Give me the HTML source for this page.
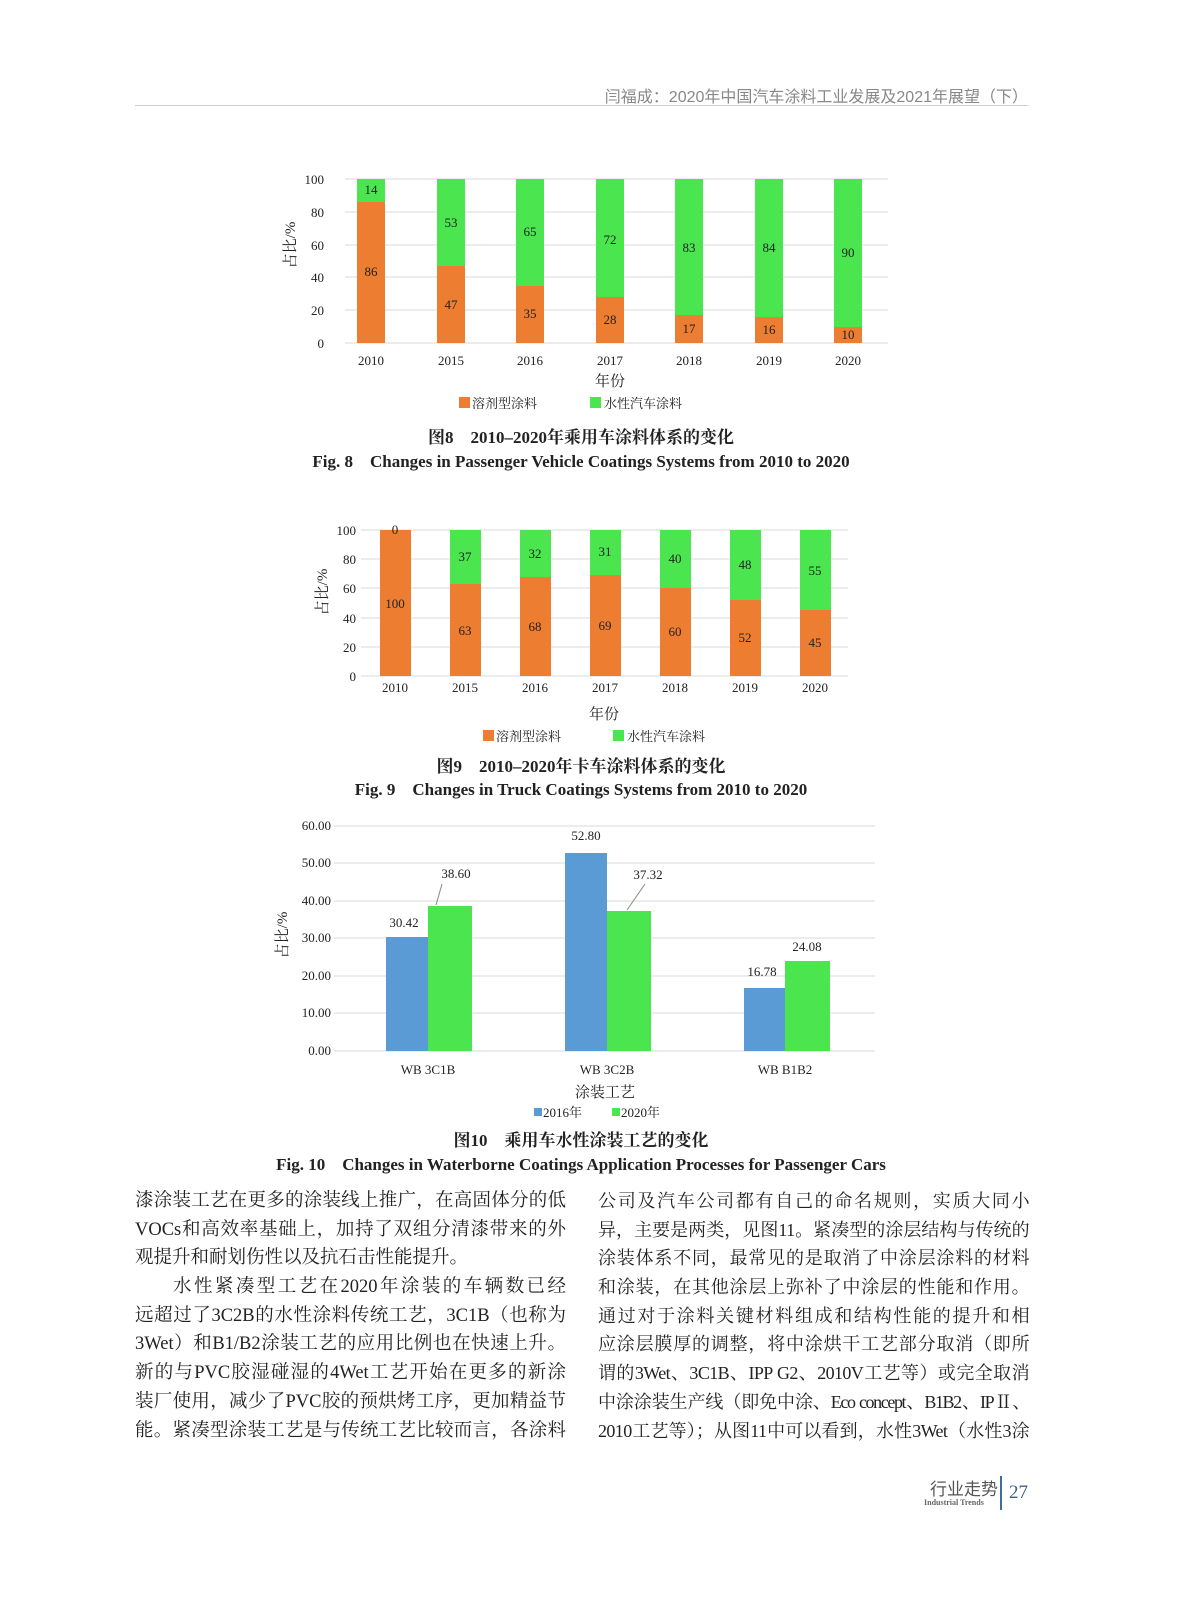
<!DOCTYPE html>
<html><head><meta charset="utf-8"><style>
html,body{margin:0;background:#fff;width:1187px;height:1600px;overflow:hidden;}
#p{position:relative;width:1187px;height:1600px;overflow:hidden;font-family:"Liberation Serif","Noto Serif CJK SC",serif;color:#222;}
.t{position:absolute;white-space:nowrap;}
.col{position:absolute;width:431px;font-size:18.5px;}
.col div{height:28.7px;line-height:28.7px;text-align:justify;text-align-last:justify;white-space:nowrap;}
.col div.e{text-align-last:left;}
.rc{font-size:18px;letter-spacing:-0.6px;}
</style></head><body><div id="p">
<div class="t" style="right:159px;top:83px;font-size:16px;color:#888;font-family:'Liberation Sans','Noto Sans CJK SC',sans-serif;">闫福成：2020年中国汽车涂料工业发展及2021年展望（下）</div>
<div style="position:absolute;left:135px;top:105px;width:893px;height:1px;background:#ccc"></div>

<svg width="1187" height="1600" style="position:absolute;left:0;top:0" font-family="Liberation Serif, Noto Serif CJK SC, serif" fill="#222">
<!-- Chart 1 -->
<g stroke="#d9d9d9" stroke-width="1">
<line x1="345" x2="888" y1="179" y2="179"/><line x1="345" x2="888" y1="212" y2="212"/><line x1="345" x2="888" y1="245" y2="245"/><line x1="345" x2="888" y1="277" y2="277"/><line x1="345" x2="888" y1="310" y2="310"/><line x1="345" x2="888" y1="343" y2="343"/>
</g>
<g font-size="13" text-anchor="end"><text x="324" y="184">100</text><text x="324" y="217">80</text><text x="324" y="250">60</text><text x="324" y="282">40</text><text x="324" y="315">20</text><text x="324" y="348">0</text></g>
<text font-size="15" transform="translate(295,245) rotate(-90)" text-anchor="middle">占比/%</text>
<g font-size="13" text-anchor="middle">
<rect x="357" y="179" width="28" height="23" fill="#4BE550"/><rect x="357" y="202" width="28" height="141" fill="#ED7D31"/><text x="371" y="194">14</text><text x="371" y="276">86</text><text x="371" y="365">2010</text>
<rect x="437" y="179" width="28" height="87" fill="#4BE550"/><rect x="437" y="266" width="28" height="77" fill="#ED7D31"/><text x="451" y="227">53</text><text x="451" y="309">47</text><text x="451" y="365">2015</text>
<rect x="516" y="179" width="28" height="107" fill="#4BE550"/><rect x="516" y="286" width="28" height="57" fill="#ED7D31"/><text x="530" y="236">65</text><text x="530" y="318">35</text><text x="530" y="365">2016</text>
<rect x="596" y="179" width="28" height="118" fill="#4BE550"/><rect x="596" y="297" width="28" height="46" fill="#ED7D31"/><text x="610" y="244">72</text><text x="610" y="324">28</text><text x="610" y="365">2017</text>
<rect x="675" y="179" width="28" height="136" fill="#4BE550"/><rect x="675" y="315" width="28" height="28" fill="#ED7D31"/><text x="689" y="252">83</text><text x="689" y="333">17</text><text x="689" y="365">2018</text>
<rect x="755" y="179" width="28" height="138" fill="#4BE550"/><rect x="755" y="317" width="28" height="26" fill="#ED7D31"/><text x="769" y="252">84</text><text x="769" y="334">16</text><text x="769" y="365">2019</text>
<rect x="834" y="179" width="28" height="148" fill="#4BE550"/><rect x="834" y="327" width="28" height="16" fill="#ED7D31"/><text x="848" y="257">90</text><text x="848" y="339">10</text><text x="848" y="365">2020</text>
<text x="610" y="386" font-size="15">年份</text>
</g>
<g font-size="13"><rect x="459" y="397" width="11" height="11" fill="#ED7D31"/><text x="472" y="408">溶剂型涂料</text><rect x="590" y="397" width="11" height="11" fill="#4BE550"/><text x="604" y="408">水性汽车涂料</text></g>
<g text-anchor="middle" font-weight="bold"><text x="581" y="443" font-size="17">图8　2010–2020年乘用车涂料体系的变化</text><text x="581" y="467" font-size="17">Fig. 8　Changes in Passenger Vehicle Coatings Systems from 2010 to 2020</text></g>

<!-- Chart 2 -->
<g stroke="#d9d9d9"><line x1="361" x2="848" y1="530" y2="530"/><line x1="361" x2="848" y1="559" y2="559"/><line x1="361" x2="848" y1="588" y2="588"/><line x1="361" x2="848" y1="618" y2="618"/><line x1="361" x2="848" y1="647" y2="647"/><line x1="361" x2="848" y1="676" y2="676"/></g>
<g font-size="13" text-anchor="end"><text x="356" y="535">100</text><text x="356" y="564">80</text><text x="356" y="593">60</text><text x="356" y="623">40</text><text x="356" y="652">20</text><text x="356" y="681">0</text></g>
<text font-size="15" transform="translate(327,592) rotate(-90)" text-anchor="middle">占比/%</text>
<g font-size="13" text-anchor="middle">
<rect x="380" y="530" width="31" height="146" fill="#ED7D31"/><text x="395" y="534">0</text><text x="395" y="608">100</text><text x="395" y="692">2010</text>
<rect x="450" y="530" width="31" height="54" fill="#4BE550"/><rect x="450" y="584" width="31" height="92" fill="#ED7D31"/><text x="465" y="561">37</text><text x="465" y="635">63</text><text x="465" y="692">2015</text>
<rect x="520" y="530" width="31" height="47" fill="#4BE550"/><rect x="520" y="577" width="31" height="99" fill="#ED7D31"/><text x="535" y="558">32</text><text x="535" y="631">68</text><text x="535" y="692">2016</text>
<rect x="590" y="530" width="31" height="45" fill="#4BE550"/><rect x="590" y="575" width="31" height="101" fill="#ED7D31"/><text x="605" y="556">31</text><text x="605" y="630">69</text><text x="605" y="692">2017</text>
<rect x="660" y="530" width="31" height="58" fill="#4BE550"/><rect x="660" y="588" width="31" height="88" fill="#ED7D31"/><text x="675" y="563">40</text><text x="675" y="636">60</text><text x="675" y="692">2018</text>
<rect x="730" y="530" width="31" height="70" fill="#4BE550"/><rect x="730" y="600" width="31" height="76" fill="#ED7D31"/><text x="745" y="569">48</text><text x="745" y="642">52</text><text x="745" y="692">2019</text>
<rect x="800" y="530" width="31" height="80" fill="#4BE550"/><rect x="800" y="610" width="31" height="66" fill="#ED7D31"/><text x="815" y="575">55</text><text x="815" y="647">45</text><text x="815" y="692">2020</text>
<text x="604" y="719" font-size="15">年份</text>
</g>
<g font-size="13"><rect x="483" y="730" width="11" height="11" fill="#ED7D31"/><text x="496" y="741">溶剂型涂料</text><rect x="613" y="730" width="11" height="11" fill="#4BE550"/><text x="627" y="741">水性汽车涂料</text></g>
<g text-anchor="middle" font-weight="bold"><text x="581" y="772" font-size="17">图9　2010–2020年卡车涂料体系的变化</text><text x="581" y="795" font-size="17">Fig. 9　Changes in Truck Coatings Systems from 2010 to 2020</text></g>

<!-- Chart 3 -->
<g stroke="#d9d9d9"><line x1="334" x2="875" y1="826" y2="826"/><line x1="334" x2="875" y1="863" y2="863"/><line x1="334" x2="875" y1="901" y2="901"/><line x1="334" x2="875" y1="938" y2="938"/><line x1="334" x2="875" y1="976" y2="976"/><line x1="334" x2="875" y1="1013" y2="1013"/><line x1="334" x2="875" y1="1051" y2="1051"/></g>
<g font-size="13" text-anchor="end"><text x="331" y="830">60.00</text><text x="331" y="867">50.00</text><text x="331" y="905">40.00</text><text x="331" y="942">30.00</text><text x="331" y="980">20.00</text><text x="331" y="1017">10.00</text><text x="331" y="1055">0.00</text></g>
<text font-size="15" transform="translate(287,935) rotate(-90)" text-anchor="middle">占比/%</text>
<rect x="386" y="937" width="42" height="114" fill="#5B9BD5"/><rect x="428" y="906" width="44" height="145" fill="#4BE550"/>
<rect x="565" y="853" width="42" height="198" fill="#5B9BD5"/><rect x="607" y="911" width="44" height="140" fill="#4BE550"/>
<rect x="744" y="988" width="41" height="63" fill="#5B9BD5"/><rect x="785" y="961" width="45" height="90" fill="#4BE550"/>
<g stroke="#888"><line x1="436" y1="905" x2="442" y2="884"/><line x1="627" y1="910" x2="645" y2="884"/></g>
<g font-size="13" text-anchor="middle">
<text x="404" y="927">30.42</text><text x="456" y="878">38.60</text><text x="586" y="840">52.80</text><text x="648" y="879">37.32</text><text x="762" y="976">16.78</text><text x="807" y="951">24.08</text>
<text x="428" y="1074">WB 3C1B</text><text x="607" y="1074">WB 3C2B</text><text x="785" y="1074">WB B1B2</text>
<text x="605" y="1097" font-size="15">涂装工艺</text>
</g>
<g font-size="13"><rect x="534" y="1108" width="8" height="8" fill="#5B9BD5"/><text x="543" y="1117">2016年</text><rect x="612" y="1108" width="8" height="8" fill="#4BE550"/><text x="621" y="1117">2020年</text></g>
<g text-anchor="middle" font-weight="bold"><text x="581" y="1146" font-size="17">图10　乘用车水性涂装工艺的变化</text><text x="581" y="1170" font-size="17">Fig. 10　Changes in Waterborne Coatings Application Processes for Passenger Cars</text></g>
</svg>

<div class="col" style="left:135px;top:1187px;">
<div>漆涂装工艺在更多的涂装线上推广，在高固体分的低</div>
<div>VOCs和高效率基础上，加持了双组分清漆带来的外</div>
<div class="e">观提升和耐划伤性以及抗石击性能提升。</div>
<div style="padding-left:38px">水性紧凑型工艺在2020年涂装的车辆数已经</div>
<div>远超过了3C2B的水性涂料传统工艺，3C1B（也称为</div>
<div>3Wet）和B1/B2涂装工艺的应用比例也在快速上升。</div>
<div>新的与PVC胶湿碰湿的4Wet工艺开始在更多的新涂</div>
<div>装厂使用，减少了PVC胶的预烘烤工序，更加精益节</div>
<div>能。紧凑型涂装工艺是与传统工艺比较而言，各涂料</div>
</div>
<div class="col rc" style="left:598px;top:1187px;">
<div>公司及汽车公司都有自己的命名规则，实质大同小</div>
<div>异，主要是两类，见图11。紧凑型的涂层结构与传统的</div>
<div>涂装体系不同，最常见的是取消了中涂层涂料的材料</div>
<div>和涂装，在其他涂层上弥补了中涂层的性能和作用。</div>
<div>通过对于涂料关键材料组成和结构性能的提升和相</div>
<div>应涂层膜厚的调整，将中涂烘干工艺部分取消（即所</div>
<div>谓的3Wet、3C1B、IPP G2、2010V工艺等）或完全取消</div>
<div style="letter-spacing:-1.4px">中涂涂装生产线（即免中涂、Eco concept、B1B2、IPⅡ、</div>
<div>2010工艺等）；从图11中可以看到，水性3Wet（水性3涂</div>
</div>

<div class="t" style="left:930px;top:1475px;font-size:17px;color:#555;font-family:'Liberation Sans','Noto Sans CJK SC',sans-serif;">行业走势</div>
<div class="t" style="left:924px;top:1498px;font-size:8px;color:#666;font-weight:bold;">Industrial Trends</div>
<div style="position:absolute;left:1000px;top:1476px;width:2px;height:34px;background:#3b6ea5"></div>
<div class="t" style="left:1009px;top:1482px;font-size:19px;color:#3b5f8a;">27</div>
</div></body></html>
